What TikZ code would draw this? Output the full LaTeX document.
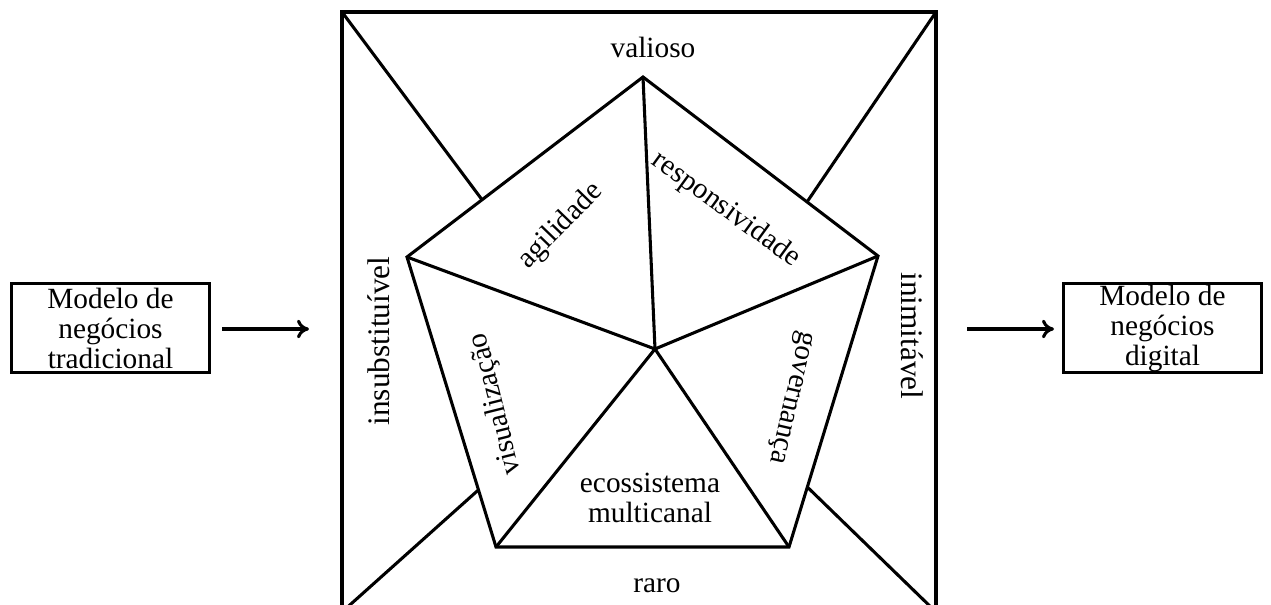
\documentclass[tikz,border=0pt]{standalone}
\usepackage{fontspec}
\setmainfont{Liberation Serif}
\usetikzlibrary{arrows.meta,calc}
\begin{document}
\begin{tikzpicture}[x=0.75pt,y=-0.75pt,
  ln/.style={line width=2.3pt, line join=miter, line cap=butt},
  lbl/.style={font=\fontsize{22}{22.5}\selectfont, inner sep=0pt, align=center},
  sidelbl/.style={font=\fontsize{23.5}{24}\selectfont, inner sep=0pt},
  modelbox/.style={draw, line width=2.3pt, minimum width=149pt, minimum height=67pt, inner sep=0pt, align=center, font=\fontsize{22}{22.5}\selectfont},
  arr/.style={line width=2.3pt, -{To[length=9pt,width=14pt,line width=2.3pt]}}]
\useasboundingbox (0,0) rectangle (1271,604);
% square
\coordinate (S1) at (342,12);
\coordinate (S2) at (936,12);
\coordinate (S3) at (342,612);
\coordinate (S4) at (936,612);
\draw[ln] (S3) -- (S1) -- (S2) -- (S4);
% pentagon
\coordinate (T) at (643,77);
\coordinate (L) at (407,257);
\coordinate (R) at (878,256);
\coordinate (BL) at (496,547);
\coordinate (BR) at (789,547);
\coordinate (C) at (655,349);
\draw[ln] (T) -- (R) -- (BR) -- (BL) -- (L) -- cycle;
\draw[ln] (C) -- (T) (C) -- (L) (C) -- (R) (C) -- (BL) (C) -- (BR);
% diagonals
\coordinate (D1) at ($(L)!0.318!(T)$);
\coordinate (D2) at ($(T)!0.698!(R)$);
\coordinate (D3) at ($(L)!0.803!(BL)$);
\coordinate (D4) at ($(R)!0.794!(BR)$);
\draw[ln] (S1) -- (D1) (S2) -- (D2) (S3) -- (D3) (S4) -- (D4);
% labels
\node[lbl] (valioso) at (653,47) {valioso};
\node[lbl] (raro) at (657,586) {raro};
\node[sidelbl, rotate=90] (insub) at (379,341) {insubstituível};
\node[sidelbl, rotate=-90] (inimi) at (912,336) {inimitável};
\node[lbl, rotate=46] (agil) at (561,226) {agilidade};
\node[lbl, rotate=-36] (resp) at (726,210) {responsividade};
\node[lbl, rotate=104] (visu) at (496,404) {visualização};
\node[lbl, rotate=-103] (gov) at (790,397) {governança};
\node[lbl] (eco) at (650,498) {ecossistema\\multicanal};
% side boxes
\node[modelbox] (lbox) at (110.5,328) {Modelo de\\negócios\\tradicional};
\node[modelbox] (rbox) at (1162.5,328) {Modelo de\\negócios\\digital};
\coordinate (A1s) at (222,329);
\coordinate (A1e) at (309,329);
\coordinate (A2s) at (967,329);
\coordinate (A2e) at (1054,329);
\draw[arr] (A1s) -- (A1e);
\draw[arr] (A2s) -- (A2e);
\end{tikzpicture}
\end{document}
